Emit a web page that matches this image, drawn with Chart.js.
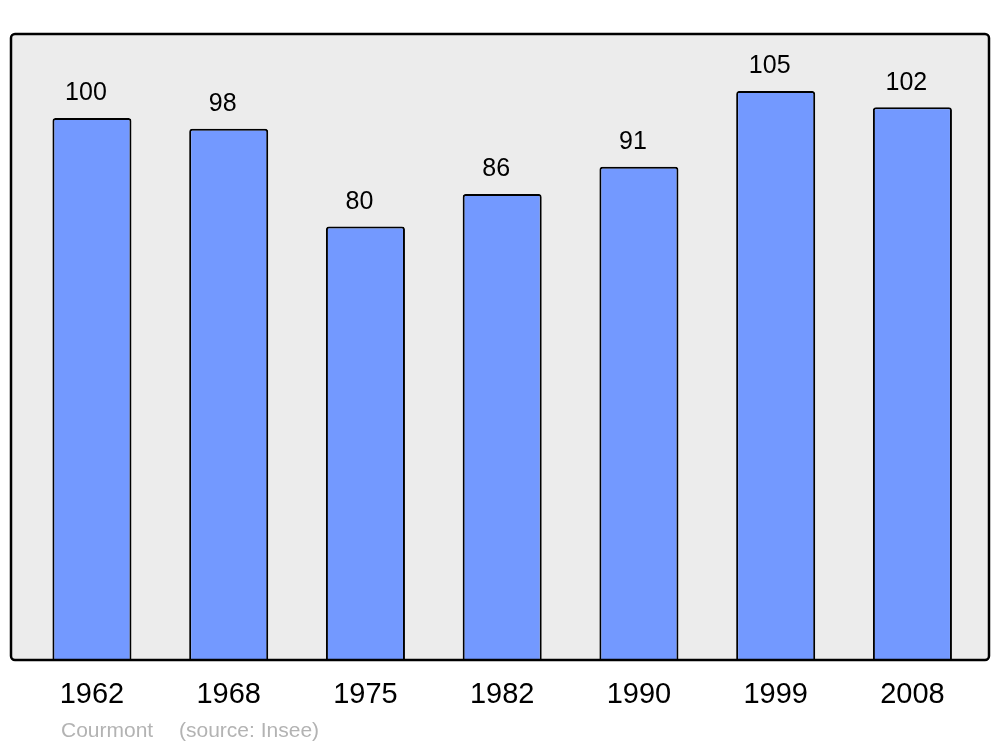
<!DOCTYPE html>
<html>
<head>
<meta charset="utf-8">
<script src="https://cdn.jsdelivr.net/npm/chart.js@4"></script>
<style>
  html, body { margin: 0; padding: 0; background: #ffffff; }
  #wrap { width: 1000px; height: 747px; }
</style>
</head>
<body>
<div id="wrap"><canvas id="chartContainer" width="1000" height="747"></canvas></div>
<script>
var years = ["1962", "1968", "1975", "1982", "1990", "1999", "2008"];
var population = [100, 98, 80, 86, 91, 105, 102];
var townName = "Courmont";
var sourceText = "(source: Insee)";

// bars placed by index on a linear axis so the outer gaps match the picture
var points = [];
for (i = 0; i < population.length; i++) {
    points.push({x: i, y: population[i]});
}

var boxPlugin = {
    id: 'box',
    beforeDatasetsDraw: function(chart) {
        var a = chart.chartArea, ctx = chart.ctx;
        ctx.save();
        ctx.fillStyle = "#ececec";
        ctx.beginPath();
        ctx.roundRect(a.left, a.top, a.right - a.left, a.bottom - a.top, 4);
        ctx.fill();
        ctx.restore();
    },
    afterDatasetsDraw: function(chart) {
        var a = chart.chartArea, ctx = chart.ctx;
        ctx.save();
        ctx.strokeStyle = "#000000";
        ctx.lineWidth = 2.5;
        ctx.beginPath();
        ctx.roundRect(a.left, a.top, a.right - a.left, a.bottom - a.top, 4);
        ctx.stroke();

        // value labels above bars
        ctx.fillStyle = "#000000";
        ctx.font = "25px 'Liberation Sans', Arial, sans-serif";
        ctx.textAlign = "center";
        ctx.textBaseline = "bottom";
        chart.getDatasetMeta(0).data.forEach(function(bar, idx) {
            ctx.fillText(String(population[idx]), bar.x - 6, bar.y - 12);
        });

        // footer
        ctx.fillStyle = "#b3b3b3";
        ctx.font = "21px 'Liberation Sans', Arial, sans-serif";
        ctx.textAlign = "left";
        ctx.textBaseline = "middle";
        ctx.fillText(townName, 61, 731);
        ctx.fillText(sourceText, 179, 731);
        ctx.restore();
    }
};

var myBarChart = new Chart('chartContainer', {
    type: 'bar',
    data: {
        datasets: [{
            data: points,
            backgroundColor: "#7399ff",
            borderColor: "#000000",
            borderWidth: 2,
            borderRadius: 3,
            categoryPercentage: 1,
            barPercentage: 0.578
        }]
    },
    options: {
        responsive: false,
        animation: false,
        layout: { padding: { top: 34, left: 11, right: 11, bottom: 0 } },
        plugins: {
            legend: { display: false },
            tooltip: { enabled: false }
        },
        scales: {
            x: {
                type: 'linear',
                offset: false,
                min: -0.592,
                max: 6.56,
                grid: { display: false, drawTicks: false, offset: false },
                border: { display: false },
                afterBuildTicks: function(scale) {
                    scale.ticks = years.map(function(y, i) { return {value: i}; });
                },
                afterFit: function(scale) { scale.height = 87; },
                ticks: {
                    autoSkip: false,
                    maxRotation: 0,
                    padding: 18,
                    color: "#000000",
                    font: { family: "'Liberation Sans', Arial, sans-serif", size: 29 },
                    callback: function(v) { return years[v]; }
                }
            },
            y: {
                display: false,
                min: 0,
                max: 115.5
            }
        }
    },
    plugins: [boxPlugin]
});
</script>
</body>
</html>
